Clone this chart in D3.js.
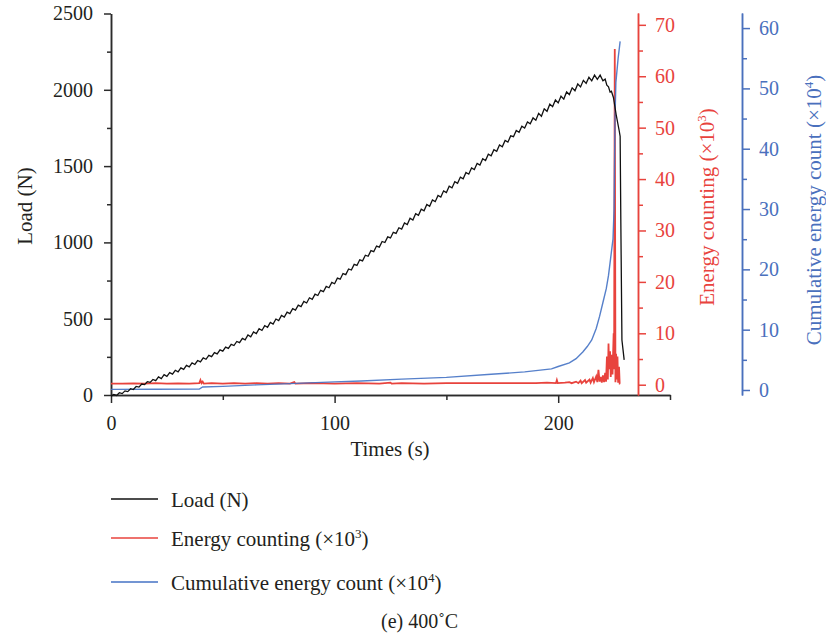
<!DOCTYPE html>
<html>
<head>
<meta charset="utf-8">
<script src="https://cdn.jsdelivr.net/npm/d3@7"></script>
<style>
  body { margin: 0; background: #fff; }
  svg text { font-family: "Liberation Serif", "DejaVu Serif", serif; }
</style>
</head>
<body>
<script>
const width = 826;
const height = 638;

// load (N) vs time (s), zigzag
const loadData = [
  [0,-8],[1.25,3],[2.5,-3],[3.75,15],[5,9],[6.25,27],[7.5,22],[8.75,41],[10,36],[11.25,56],
  [12.5,52],[13.75,72],[15,68],[16.25,87],[17.5,83],[18.75,102],[20,94],[21.25,119],[22.5,108],[23.75,133],
  [25,122],[26.25,147],[27.5,137],[28.75,162],[30,152],[31.25,178],[32.5,168],[33.75,194],[35,184],[36.25,210],
  [37.5,200],[38.75,226],[40,217],[41.25,243],[42.5,234],[43.75,260],[45,251],[46.25,278],[47.5,269],[48.75,296],
  [50,287],[51.25,314],[52.5,305],[53.75,332],[55,324],[56.25,351],[57.5,343],[58.75,371],[60,361],[61.25,393],
  [62.5,381],[63.75,413],[65,402],[66.25,434],[67.5,423],[68.75,455],[70,444],[71.25,476],[72.5,465],[73.75,498],
  [75,488],[76.25,521],[77.5,510],[78.75,543],[80,533],[81.25,566],[82.5,556],[83.75,589],[85,579],[86.25,613],
  [87.5,603],[88.75,637],[90,627],[91.25,661],[92.5,652],[93.75,686],[95,677],[96.25,712],[97.5,703],[98.75,738],
  [100,729],[101.25,766],[102.5,759],[103.75,796],[105,789],[106.25,826],[107.5,819],[108.75,856],[110,849],[111.25,886],
  [112.5,879],[113.75,916],[115,909],[116.25,946],[117.5,939],[118.75,976],[120,969],[121.25,1006],[122.5,999],[123.75,1036],
  [125,1029],[126.25,1066],[127.5,1059],[128.75,1096],[130,1087],[131.25,1128],[132.5,1117],[133.75,1158],[135,1147],[136.25,1188],
  [137.5,1177],[138.75,1218],[140,1207],[141.25,1248],[142.5,1237],[143.75,1278],[145,1267],[146.25,1308],[147.5,1297],[148.75,1338],
  [150,1327],[151.25,1368],[152.5,1357],[153.75,1398],[155,1387],[156.25,1428],[157.5,1417],[158.75,1458],[160,1447],[161.25,1488],
  [162.5,1477],[163.75,1518],[165,1507],[166.25,1548],[167.5,1537],[168.75,1578],[170,1567],[171.25,1608],[172.5,1597],[173.75,1638],
  [175,1627],[176.25,1668],[177.5,1657],[178.75,1698],[180,1693],[181.25,1733],[182.5,1722],[183.75,1762],[185,1750],[186.25,1789],
  [187.5,1777],[188.75,1816],[190,1801],[191.25,1846],[192.5,1827],[193.75,1875],[195,1859],[196.25,1906],[197.5,1889],[198.75,1933],
  [200,1914],[201.25,1958],[202.5,1939],[203.75,1986],[205,1969],[206.25,2013],[207.5,1994],[208.75,2038],[210,2019],[211.25,2062],
  [212.5,2042],[213.75,2082],[215,2059],[216.25,2096],[217.5,2069],[218.75,2096],[220,2059],[221,2070],[221.75,2030],[222.5,2020],
  [223.2,1985],[223.8,1990],[224.7,1950],[226,1830],[227.3,1730],[227.7,1695],[228,1150],[228.5,360],[229.5,230]
];

// energy counting (x10^3)
const energyData = [
  [0,0.2],[5,0.2],[10,0.25],[15,0.2],[20,0.3],[25,0.2],[30,0.25],[35,0.2],[39.5,0.3],[40,0.9],
  [40.5,0.3],[41,0.6],[41.5,0.2],[45,0.3],[50,0.2],[55,0.3],[60,0.2],[65,0.3],[70,0.2],[75,0.3],
  [80,0.2],[82,0.5],[82.5,0.2],[90,0.3],[100,0.2],[110,0.3],[120,0.2],[125,0.4],[125.5,0.2],[130,0.3],
  [140,0.2],[150,0.3],[160,0.3],[170,0.3],[180,0.3],[190,0.3],[195,0.4],[199,0.3],[199.4,0.9],[199.8,0.3],
  [203,0.4],[205,0.5],[206,0.3],[208,0.6],[209,0.3],[210,0.8],[210.5,0.3],[212,0.9],[212.5,0.4],[214,1.0],
  [214.5,0.4],[215.5,1.3],[216,0.5],[217,1.6],[217.5,0.5],[218,2.9],[218.5,0.6],[219,1.5],[219.5,0.4],[220,1.8],
  [220.5,0.5],[221,2.3],[221.4,0.6],[221.8,5.5],[222.2,1.0],[222.5,8.0],[222.8,3.0],[223.2,6.5],[223.5,1.5],[223.9,5.8],
  [224.3,2.0],[224.8,10.0],[225.0,3.0],[225.3,65.3],[225.6,0.5],[225.9,6.0],[226.2,1.0],[226.5,5.5],[226.8,0.4],[227.2,3.5],
  [227.5,0.2],[227.7,0.2]
];

// cumulative energy count (x10^4)
const cumData = [
  [0,0.1],[20,0.12],[39.5,0.15],[41,0.5],[50,0.6],[65,0.85],[80,1.05],[100,1.35],[112,1.5],[130,1.8],
  [150,2.1],[170,2.6],[185,3.0],[197,3.5],[200,3.9],[205,4.5],[208,5.2],[211,6.3],[213,7.2],[215,8.3],
  [217,10.2],[218.5,12.2],[220,14.5],[221.5,16.8],[222.5,19],[223.5,22],[224.5,25],[225,30],[225.4,45],[225.8,51],
  [226.8,55],[227.7,57.8]
];

const xMajor = [0, 100, 200];
const xMinor = [50, 150, 250];
const loadMajor = [0, 500, 1000, 1500, 2000, 2500];
const loadMinor = [250, 750, 1250, 1750, 2250];
const energyMajor = [0, 10, 20, 30, 40, 50, 60, 70];
const energyMinor = [5, 15, 25, 35, 45, 55, 65];
const cumMajor = [0, 10, 20, 30, 40, 50, 60];
const cumMinor = [5, 15, 25, 35, 45, 55];

const dark = '#2b2b2b';
const red = '#e8433d';
const blue = '#4a70bd';

const x = d3.scaleLinear().domain([0, 250]).range([111, 670]);
const yLoad = d3.scaleLinear().domain([0, 2500]).range([395, 13.5]);
const yEnergy = d3.scaleLinear().domain([-2, 72.3]).range([395, 13]);
const yCum = d3.scaleLinear().domain([-0.83, 62.5]).range([395, 13]);

const svg = d3.select('body').append('svg')
  .attr('width', width)
  .attr('height', height);

function styleAxis(g, color, textColor) {
  g.selectAll('path, line').attr('stroke', color).attr('stroke-width', 1.5);
  g.selectAll('text').attr('fill', textColor).attr('font-size', 20)
    .attr('font-family', '"Liberation Serif", serif');
}

// left axis (load)
svg.append('g').attr('transform', 'translate(111,0)')
  .call(d3.axisLeft(yLoad).tickValues(loadMinor).tickSize(4).tickSizeOuter(0).tickFormat(''))
  .call(g => styleAxis(g, dark, dark));
svg.append('g').attr('transform', 'translate(111,0)')
  .call(d3.axisLeft(yLoad).tickValues(loadMajor).tickSize(7).tickSizeOuter(0).tickPadding(11).tickFormat(d3.format('d')))
  .call(g => styleAxis(g, dark, '#231f20'));

// bottom axis (time)
svg.append('g').attr('transform', 'translate(0,395)')
  .call(d3.axisBottom(x).tickValues(xMinor).tickSize(5).tickSizeOuter(0).tickFormat(''))
  .call(g => styleAxis(g, dark, dark));
svg.append('g').attr('transform', 'translate(0,395)')
  .call(d3.axisBottom(x).tickValues(xMajor).tickSize(8).tickSizeOuter(0).tickPadding(13))
  .call(g => styleAxis(g, dark, '#231f20'));

// red axis (energy counting)
svg.append('g').attr('transform', 'translate(638,0)')
  .call(d3.axisRight(yEnergy).tickValues(energyMinor).tickSize(5).tickSizeOuter(0).tickFormat(''))
  .call(g => styleAxis(g, red, red));
svg.append('g').attr('transform', 'translate(638,0)')
  .call(d3.axisRight(yEnergy).tickValues(energyMajor).tickSize(8).tickSizeOuter(0).tickPadding(9))
  .call(g => styleAxis(g, red, red));

// blue axis (cumulative)
svg.append('g').attr('transform', 'translate(742,0)')
  .call(d3.axisRight(yCum).tickValues(cumMinor).tickSize(5).tickSizeOuter(0).tickFormat(''))
  .call(g => styleAxis(g, blue, blue));
svg.append('g').attr('transform', 'translate(742,0)')
  .call(d3.axisRight(yCum).tickValues(cumMajor).tickSize(8).tickSizeOuter(0).tickPadding(9))
  .call(g => styleAxis(g, blue, blue));

// series
const lineEnergy = d3.line().x(d => x(d[0])).y(d => yEnergy(d[1]));
const lineCum = d3.line().x(d => x(d[0])).y(d => yCum(d[1]));
const lineLoad = d3.line().x(d => x(d[0])).y(d => yLoad(d[1]));

svg.append('path').attr('d', lineEnergy(energyData))
  .attr('fill', 'none').attr('stroke', red).attr('stroke-width', 1.8);
svg.append('path').attr('d', lineCum(cumData))
  .attr('fill', 'none').attr('stroke', '#4472c4').attr('stroke-width', 1.4).attr('stroke-opacity', 0.9);
svg.append('path').attr('d', lineLoad(loadData))
  .attr('fill', 'none').attr('stroke', '#111').attr('stroke-width', 1.3);

// axis titles
function sup(t, base, s) {
  t.append('tspan').text(base);
  t.append('tspan').text(s).attr('font-size', 13).attr('dy', -8);
  t.append('tspan').text(')').attr('dy', 8);
}

svg.append('text').attr('transform', 'translate(32,206) rotate(-90)')
  .attr('text-anchor', 'middle').attr('font-size', 21).attr('fill', '#231f20')
  .text('Load (N)');

svg.append('text').attr('x', 390).attr('y', 456)
  .attr('text-anchor', 'middle').attr('font-size', 21).attr('fill', '#231f20')
  .text('Times (s)');

svg.append('text').attr('transform', 'translate(714,207) rotate(-90)')
  .attr('text-anchor', 'middle').attr('font-size', 21).attr('fill', red)
  .call(t => sup(t, 'Energy counting (×10', '3'));

svg.append('text').attr('transform', 'translate(821,210) rotate(-90)')
  .attr('text-anchor', 'middle').attr('font-size', 21).attr('fill', blue)
  .call(t => sup(t, 'Cumulative energy count (×10', '4'));

// legend
const legend = [
  { label: 'Load (N)', color: '#111', y: 499, s: null },
  { label: 'Energy counting (×10', color: red, y: 538, s: '3' },
  { label: 'Cumulative energy count (×10', color: '#4472c4', y: 582, s: '4' }
];
legend.forEach(d => {
  svg.append('line').attr('x1', 111).attr('x2', 158).attr('y1', d.y).attr('y2', d.y)
    .attr('stroke', d.color).attr('stroke-width', 1.3);
  const t = svg.append('text').attr('x', 171).attr('y', d.y + 8)
    .attr('font-size', 21).attr('fill', '#231f20');
  if (d.s) sup(t, d.label, d.s); else t.text(d.label);
});

svg.append('text').attr('x', 381).attr('y', 628)
  .attr('font-size', 20).attr('fill', '#231f20')
  .text('(e) 400˚C');
</script>
</body>
</html>
